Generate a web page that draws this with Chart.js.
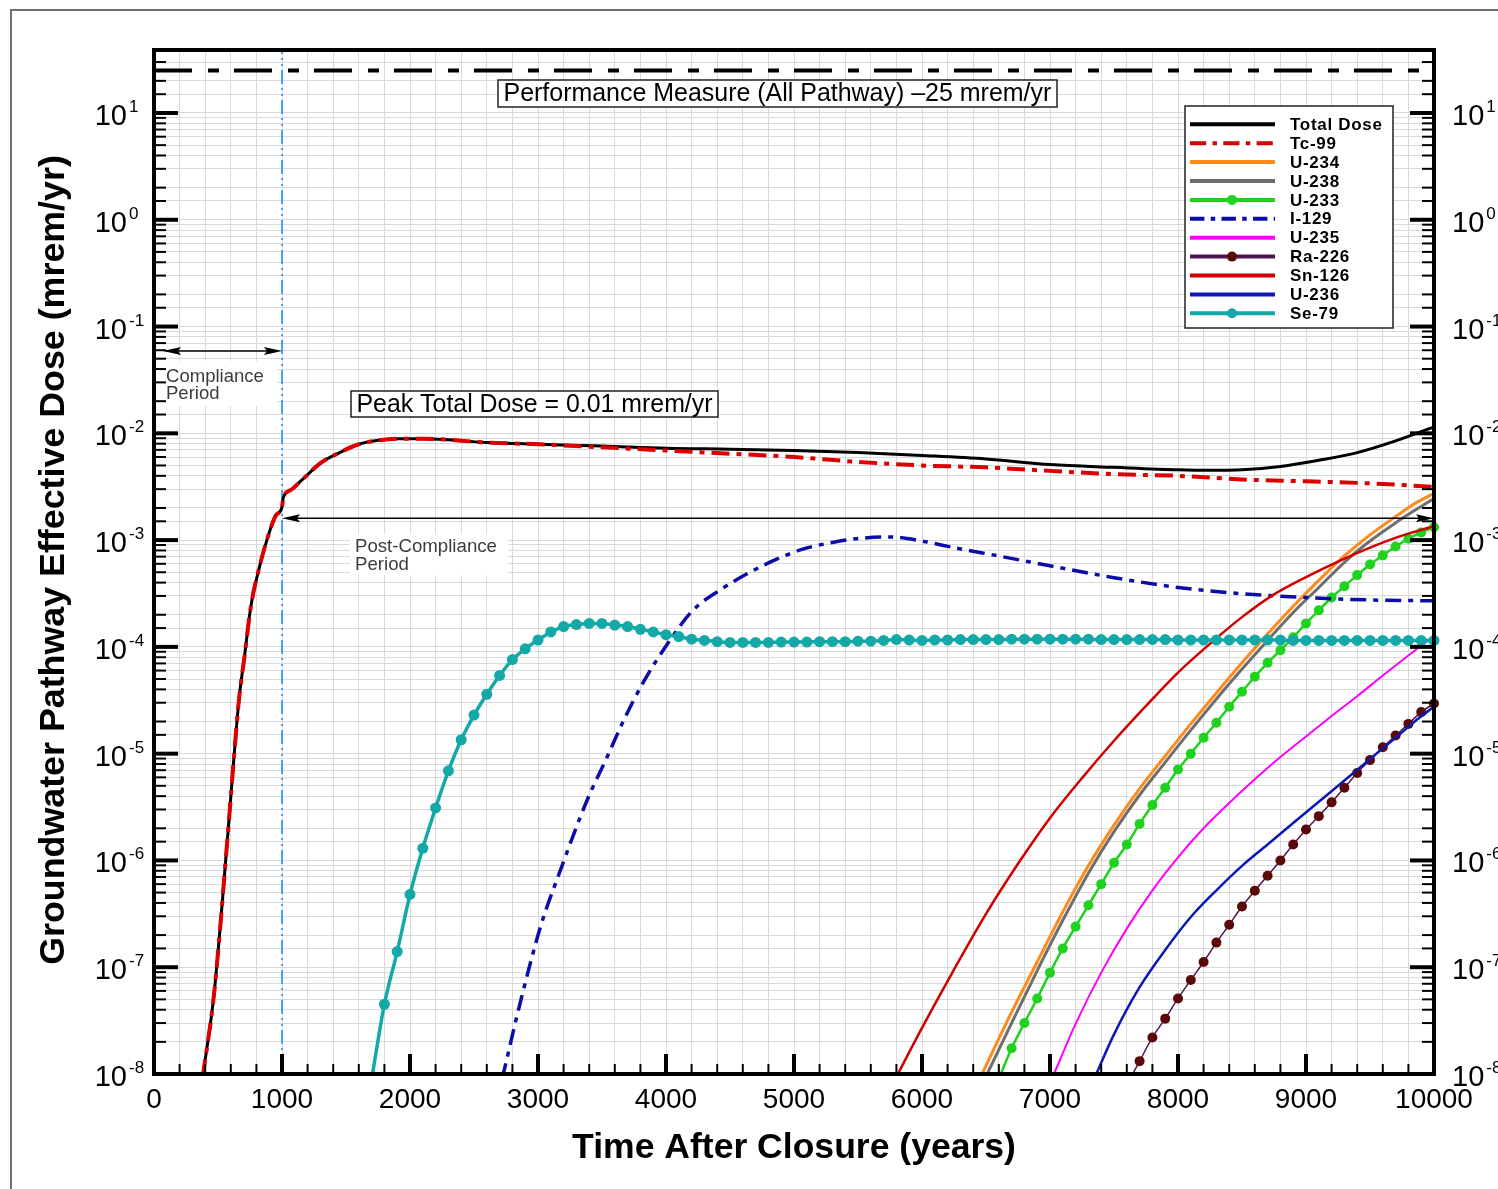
<!DOCTYPE html>
<html><head><meta charset="utf-8">
<script src="https://cdn.jsdelivr.net/npm/chart.js@4.4.1/dist/chart.umd.min.js"></script>
<style>html,body{margin:0;padding:0;background:#fff;overflow:hidden}canvas{display:block}</style>
</head><body>
<canvas id="c" width="1498" height="1189" style="width:1498px;height:1189px"></canvas>
<script>
// ---------------- DATA ----------------
const xTickLabels = [0, 1000, 2000, 3000, 4000, 5000, 6000, 7000, 8000, 9000, 10000];
const performanceMeasure = 25;       // mrem/yr
const complianceYear = 1000;

const totalYears = [380,470,575,627,666,705,757,822,887,952,1000,1010,1070,1150,1300,1450,1600,1750,1900,2100,2300,2600,3000,3500,4000,4500,5000,5500,6000,6500,7000,7500,8000,8250,8500,8800,9100,9400,9700,10000];
const totalDose  = [9.3e-9,5.75e-8,1.66e-6,1.0e-5,3.4e-5,7.8e-5,2.4e-4,5.5e-4,1.05e-3,1.7e-3,2.04e-3,2.5e-3,2.95e-3,3.6e-3,5.25e-3,6.6e-3,7.9e-3,8.6e-3,8.9e-3,8.9e-3,8.7e-3,8.2e-3,7.9e-3,7.6e-3,7.25e-3,7.1e-3,6.9e-3,6.6e-3,6.2e-3,5.75e-3,5.1e-3,4.8e-3,4.55e-3,4.5e-3,4.55e-3,4.9e-3,5.6e-3,6.6e-3,8.5e-3,1.15e-2];

const tc99Years = [380,470,575,627,666,705,757,822,887,952,1000,1010,1070,1150,1300,1450,1600,1750,1900,2100,2300,2600,3000,3500,4000,4500,5000,5500,6000,6500,7000,7500,8000,8500,9000,9500,10000];
const tc99Dose  = [9.3e-9,5.75e-8,1.66e-6,1.0e-5,3.4e-5,7.8e-5,2.4e-4,5.5e-4,1.05e-3,1.7e-3,2.04e-3,2.5e-3,2.95e-3,3.6e-3,5.25e-3,6.6e-3,7.9e-3,8.6e-3,8.9e-3,8.9e-3,8.7e-3,8.2e-3,7.9e-3,7.4e-3,6.9e-3,6.45e-3,6.0e-3,5.4e-3,5.0e-3,4.8e-3,4.45e-3,4.15e-3,4.0e-3,3.7e-3,3.55e-3,3.4e-3,3.15e-3];

const u234Years = [6460,6700,6900,7100,7300,7500,7700,7900,8100,8300,8500,8700,8900,9100,9300,9500,9700,9850,10000];
const u234Dose  = [9.5e-9,3.8e-8,1.12e-7,3.3e-7,8.9e-7,2.14e-6,4.7e-6,9.5e-6,1.9e-5,3.7e-5,7.1e-5,1.32e-4,2.4e-4,4.2e-4,7.1e-4,1.12e-3,1.66e-3,2.2e-3,2.75e-3];

const u238Years = [6500,6700,6900,7100,7300,7500,7700,7900,8100,8300,8500,8700,8900,9100,9300,9500,9700,9850,10000];
const u238Dose  = [9.5e-9,3.0e-8,9.3e-8,2.75e-7,7.6e-7,1.86e-6,4.1e-6,8.3e-6,1.66e-5,3.25e-5,6.2e-5,1.15e-4,2.1e-4,3.6e-4,6.2e-4,9.8e-4,1.45e-3,1.9e-3,2.45e-3];

const u233Years = [6600,6700,6800,6900,7000,7100,7200,7300,7400,7500,7600,7700,7800,7900,8000,8100,8200,8300,8400,8500,8600,8700,8800,8900,9000,9100,9200,9300,9400,9500,9600,9700,9800,9900,10000];
const u233Dose  = [9.0e-9,1.74e-8,3.0e-8,5.1e-8,8.9e-8,1.5e-7,2.4e-7,3.8e-7,6.0e-7,9.5e-7,1.41e-6,2.2e-6,3.3e-6,4.8e-6,7.1e-6,1.0e-5,1.41e-5,1.95e-5,2.75e-5,3.8e-5,5.25e-5,7.1e-5,9.3e-5,1.23e-4,1.66e-4,2.2e-4,2.9e-4,3.7e-4,4.7e-4,5.9e-4,7.2e-4,8.7e-4,1.03e-3,1.18e-3,1.32e-3];

const i129Years = [2720,2860,3020,3175,3385,3540,3665,3820,4030,4210,4420,4735,5050,5300,5520,5750,6000,6250,6600,7000,7500,8000,8500,9000,9500,10000];
const i129Dose  = [9.0e-9,4.6e-8,2.4e-7,8.1e-7,3.7e-6,9.3e-6,2.0e-5,4.6e-5,1.15e-4,2.2e-4,3.4e-4,5.6e-4,8.1e-4,9.5e-4,1.04e-3,1.07e-3,9.8e-4,8.5e-4,7.1e-4,5.75e-4,4.45e-4,3.6e-4,3.15e-4,2.9e-4,2.75e-4,2.7e-4];

const u235Years = [7020,7200,7400,7600,7800,8000,8200,8400,8600,8800,9000,9200,9400,9600,9800,10000];
const u235Dose  = [9.3e-9,2.95e-8,8.9e-8,2.3e-7,5.25e-7,1.07e-6,2.0e-6,3.45e-6,5.75e-6,9.3e-6,1.45e-5,2.25e-5,3.45e-5,5.4e-5,8.3e-5,1.27e-4];

const ra226Years = [7600,7700,7800,7900,8000,8100,8200,8300,8400,8500,8600,8700,8800,8900,9000,9100,9200,9300,9400,9500,9600,9700,9800,9900,10000];
const ra226Dose  = [7.9e-9,1.32e-8,2.2e-8,3.3e-8,5.1e-8,7.6e-8,1.12e-7,1.7e-7,2.5e-7,3.7e-7,5.2e-7,7.2e-7,1.0e-6,1.41e-6,1.95e-6,2.6e-6,3.5e-6,4.8e-6,6.6e-6,8.7e-6,1.15e-5,1.48e-5,1.9e-5,2.45e-5,2.95e-5];

const sn126Years = [5790,6000,6250,6500,6750,7000,7250,7500,7750,8000,8250,8500,8750,9000,9250,9500,9750,10000];
const sn126Dose  = [8.9e-9,2.7e-8,9.5e-8,3.16e-7,9.3e-7,2.5e-6,5.9e-6,1.32e-5,2.8e-5,5.75e-5,1.07e-4,1.9e-4,3.1e-4,4.5e-4,6.3e-4,8.5e-4,1.1e-3,1.35e-3];

const u236Years = [7350,7500,7700,7900,8100,8300,8500,8700,8900,9100,9300,9500,9700,9900,10000];
const u236Dose  = [9.3e-9,2.35e-8,6.5e-8,1.45e-7,2.95e-7,5.25e-7,8.9e-7,1.41e-6,2.24e-6,3.55e-6,5.6e-6,8.9e-6,1.41e-5,2.24e-5,2.75e-5];

const se79Years = [1700,1800,1900,2000,2100,2200,2300,2400,2500,2600,2700,2800,2900,3000,3100,3200,3300,3400,3500,3600,3700,3800,3900,4000,4100,4200,4300,4400,4500,4600,4700,4800,4900,5000,5100,5200,5300,5400,5500,5600,5700,5800,5900,6000,6100,6200,6300,6400,6500,6600,6700,6800,6900,7000,7100,7200,7300,7400,7500,7600,7700,7800,7900,8000,8100,8200,8300,8400,8500,8600,8700,8800,8900,9000,9100,9200,9300,9400,9500,9600,9700,9800,9900,10000];
const se79Dose  = [8.9e-9,4.5e-8,1.4e-7,4.8e-7,1.3e-6,3.1e-6,6.9e-6,1.35e-5,2.3e-5,3.6e-5,5.4e-5,7.6e-5,9.6e-5,1.16e-4,1.38e-4,1.55e-4,1.62e-4,1.66e-4,1.66e-4,1.6e-4,1.55e-4,1.46e-4,1.38e-4,1.3e-4,1.25e-4,1.18e-4,1.15e-4,1.12e-4,1.1e-4,1.1e-4,1.1e-4,1.1e-4,1.11e-4,1.11e-4,1.11e-4,1.12e-4,1.12e-4,1.12e-4,1.13e-4,1.13e-4,1.15e-4,1.17e-4,1.16e-4,1.15e-4,1.16e-4,1.16e-4,1.17e-4,1.17e-4,1.17e-4,1.17e-4,1.18e-4,1.18e-4,1.18e-4,1.18e-4,1.18e-4,1.18e-4,1.18e-4,1.17e-4,1.17e-4,1.17e-4,1.17e-4,1.17e-4,1.17e-4,1.16e-4,1.16e-4,1.16e-4,1.16e-4,1.16e-4,1.16e-4,1.16e-4,1.16e-4,1.16e-4,1.15e-4,1.15e-4,1.15e-4,1.15e-4,1.15e-4,1.15e-4,1.15e-4,1.15e-4,1.15e-4,1.15e-4,1.15e-4,1.15e-4];

// ---------------- CHART ----------------
const FONT = '"Liberation Sans", Arial, Helvetica, sans-serif';
const Y_MIN = 1e-8, Y_MAX = 38.9;

function pts(xs, ys) { return xs.map((x, i) => ({ x: x, y: ys[i] })); }
const clipArea = { left: 0, top: 0, right: 6, bottom: 0 };

function series(label, xs, ys, color, width, dash, marker, markerColor, order) {
  return {
    label: label, data: pts(xs, ys), borderColor: color, backgroundColor: markerColor || color,
    borderWidth: width, borderDash: dash || [], pointRadius: marker || 0,
    pointBackgroundColor: markerColor || color, pointBorderWidth: 0, pointHoverRadius: 0,
    cubicInterpolationMode: 'monotone', fill: false, clip: clipArea, order: order, showInLegend: true
  };
}

const datasets = [
  series('Total Dose', totalYears, totalDose, '#000000', 3, null, 0, null, 20),
  series('Tc-99', tc99Years, tc99Dose, '#dd0000', 4, [18, 7, 5, 7], 0, null, 19),
  series('U-234', u234Years, u234Dose, '#ff8a1a', 3, null, 0, null, 18),
  series('U-238', u238Years, u238Dose, '#6e6e6e', 3, null, 0, null, 17),
  series('U-233', u233Years, u233Dose, '#1ed21e', 2.5, null, 5, '#1ed21e', 16),
  series('I-129', i129Years, i129Dose, '#0c0ca8', 3.5, [16, 7, 5, 7], 0, null, 15),
  series('U-235', u235Years, u235Dose, '#ff00ff', 2, null, 0, null, 14),
  series('Ra-226', ra226Years, ra226Dose, '#4e1450', 1.5, null, 5, '#5a0808', 13),
  series('Sn-126', sn126Years, sn126Dose, '#d00000', 2.5, null, 0, null, 12),
  series('U-236', u236Years, u236Dose, '#0a18b4', 2.5, null, 0, null, 11),
  series('Se-79', se79Years, se79Dose, '#14a8a8', 3.5, null, 5.5, '#14a8a8', 10)
];
// reference lines (drawn through the scales)
datasets.push({
  label: 'Performance', data: [{ x: 0, y: performanceMeasure }, { x: 10000, y: performanceMeasure }],
  borderColor: '#000', borderWidth: 4, borderDash: [38, 16, 11, 15], pointRadius: 0, order: 30, showInLegend: false, clip: 0
});
datasets.push({
  label: 'Compliance', data: [{ x: complianceYear, y: Y_MIN }, { x: complianceYear, y: Y_MAX }],
  borderColor: '#1e8fff', borderWidth: 1.6, borderDash: [14, 4, 2, 4, 2, 4], pointRadius: 0, order: 29, showInLegend: false, clip: 0
});

function fitFont(ctx, text, weight, target) {
  ctx.font = weight + ' 100px ' + FONT;
  const w = ctx.measureText(text).width;
  return 100 * target / w;
}
function arrowHead(c, x, y, dir) {
  c.beginPath();
  c.moveTo(x, y);
  c.lineTo(x + dir * 18, y - 4);
  c.lineTo(x + dir * 15, y);
  c.lineTo(x + dir * 18, y + 4);
  c.closePath();
  c.fill();
}
function seg(c, x1, y1, x2, y2) { c.beginPath(); c.moveTo(x1, y1); c.lineTo(x2, y2); c.stroke(); }

const decor = {
  id: 'decor',
  beforeDraw(chart) {
    const c = chart.ctx;
    c.save();
    c.fillStyle = '#fff'; c.fillRect(0, 0, chart.width, chart.height);
    c.strokeStyle = '#707070'; c.lineWidth = 2;
    c.strokeRect(11, 10, chart.width + 40, chart.height + 40);
    c.restore();
  },
  afterDatasetsDraw(chart) {
    const c = chart.ctx, a = chart.chartArea, xs = chart.scales.x, ys = chart.scales.y;
    c.save();

    // ---- annotation: compliance period ----
    const yComp = ys.getPixelForValue(0.059);
    c.fillStyle = '#fff';
    c.fillRect(a.left + 9, yComp + 10, 114, 45);
    c.strokeStyle = '#000'; c.fillStyle = '#000'; c.lineWidth = 1.6;
    const xC = xs.getPixelForValue(complianceYear);
    seg(c, a.left + 12, yComp, xC - 12, yComp);
    arrowHead(c, a.left + 9, yComp, 1);
    arrowHead(c, xC, yComp, -1);
    c.fillStyle = '#3c3c3c';
    c.textBaseline = 'alphabetic'; c.textAlign = 'left';
    c.font = fitFont(c, 'Compliance', 'normal', 98).toFixed(2) + 'px ' + FONT;
    c.fillText('Compliance', a.left + 12, yComp + 31);
    c.fillText('Period', a.left + 12, yComp + 48);

    // ---- annotation: post-compliance period ----
    const yPost = ys.getPixelForValue(1.6e-3);
    c.fillStyle = '#fff';
    c.fillRect(350, yPost + 15, 158, 42);
    c.fillStyle = '#000'; c.strokeStyle = '#000'; c.lineWidth = 1.6;
    seg(c, xC + 12, yPost, a.right - 12, yPost);
    arrowHead(c, xC, yPost, 1);
    arrowHead(c, a.right, yPost, -1);
    c.fillStyle = '#3c3c3c';
    c.font = fitFont(c, 'Post-Compliance', 'normal', 142).toFixed(2) + 'px ' + FONT;
    c.fillText('Post-Compliance', 355, yPost + 34);
    c.fillText('Period', 355, yPost + 52);

    // ---- boxed labels ----
    function boxLabel(text, left, top, right, bottom, baseline) {
      c.fillStyle = '#fff';
      c.fillRect(left, top, right - left, bottom - top);
      c.strokeStyle = '#222'; c.lineWidth = 1.5;
      c.strokeRect(left, top, right - left, bottom - top);
      const fs = fitFont(c, text, 'normal', right - left - 11);
      c.font = fs.toFixed(2) + 'px ' + FONT;
      c.fillStyle = '#000'; c.textAlign = 'left';
      c.fillText(text, left + 5.5, baseline);
    }
    boxLabel('Performance Measure (All Pathway) \u201325 mrem/yr', 498, 80, 1057, 107, 101);
    boxLabel('Peak Total Dose = 0.01 mrem/yr', 351, 391, 718, 417, 412);

    // ---- plot frame ----
    c.strokeStyle = '#000'; c.lineWidth = 4;
    c.strokeRect(a.left, a.top, a.right - a.left, a.bottom - a.top);

    // ---- y ticks + labels ----
    c.fillStyle = '#000';
    ys.ticks.forEach(t => {
      const v = t.value;
      const py = ys.getPixelForValue(v);
      if (py < a.top + 1 || py > a.bottom + 1) return;
      const lg = Math.log10(v);
      const major = Math.abs(lg - Math.round(lg)) < 1e-6;
      c.lineWidth = major ? 4 : 2;
      const len = major ? 24 : 12;
      seg(c, a.left, py, a.left + len, py);
      seg(c, a.right, py, a.right - len, py);
      if (major) {
        const e = String(Math.round(lg));
        c.textAlign = 'right'; c.textBaseline = 'alphabetic';
        c.font = '29px ' + FONT;
        c.fillText('10', 127, py + 12);
        c.textAlign = 'left';
        c.font = '17px ' + FONT;
        c.fillText(e, 129, py - 1);
        c.font = '29px ' + FONT;
        c.fillText('10', 1452, py + 12);
        const w = c.measureText('10').width;
        c.font = '17px ' + FONT;
        c.fillText(e, 1452 + w + 2, py - 1);
      }
    });

    // ---- x ticks + labels ----
    xs.ticks.forEach(t => {
      const v = t.value;
      const px = xs.getPixelForValue(v);
      const major = xTickLabels.indexOf(v) >= 0;
      c.lineWidth = major ? 4 : 2;
      const len = major ? 20 : 10;
      seg(c, px, a.bottom, px, a.bottom - len);
    });
    c.textAlign = 'center'; c.textBaseline = 'alphabetic';
    c.font = '28px ' + FONT;
    xTickLabels.forEach(v => {
      c.fillText(String(v), xs.getPixelForValue(v), a.bottom + 34);
    });

    // ---- axis titles ----
    const xt = 'Time After Closure (years)';
    c.font = 'bold ' + fitFont(c, xt, 'bold', 444).toFixed(2) + 'px ' + FONT;
    c.textAlign = 'center';
    c.fillText(xt, 794, 1158);
    const yt = 'Groundwater Pathway Effective Dose (mrem/yr)';
    c.font = 'bold ' + fitFont(c, yt, 'bold', 810).toFixed(2) + 'px ' + FONT;
    c.save();
    c.translate(64, 560);
    c.rotate(-Math.PI / 2);
    c.textAlign = 'center';
    c.fillText(yt, 0, 0);
    c.restore();

    // ---- legend ----
    const lx = 1185, ly = 106, lw = 208, lh = 222;
    c.fillStyle = '#fff'; c.fillRect(lx, ly, lw, lh);
    c.strokeStyle = '#222'; c.lineWidth = 1.5; c.strokeRect(lx, ly, lw, lh);
    const items = chart.data.datasets.filter(d => d.showInLegend);
    items.forEach((d, i) => {
      const y = 124.3 + i * 18.9;
      c.strokeStyle = d.borderColor; c.lineWidth = 4;
      c.setLineDash(d.borderDash && d.borderDash.length ? d.borderDash.map(v => v * 0.9) : []);
      seg(c, 1190, y, 1275, y);
      c.setLineDash([]);
      if (d.pointRadius) {
        c.fillStyle = d.pointBackgroundColor;
        c.beginPath(); c.arc(1232, y, 5, 0, Math.PI * 2); c.fill();
      }
      c.fillStyle = '#000';
      c.font = 'bold 17px ' + FONT;
      try { c.letterSpacing = '0.7px'; } catch (err) {}
      c.textAlign = 'left'; c.textBaseline = 'middle';
      c.fillText(d.label, 1290, y + 1);
      try { c.letterSpacing = '0px'; } catch (err) {}
    });
    c.restore();
  }
};

new Chart(document.getElementById('c'), {
  type: 'line',
  data: { datasets: datasets },
  options: {
    responsive: false, animation: false, devicePixelRatio: 1,
    events: [],
    layout: { padding: { left: 154, right: 64, top: 50, bottom: 115 } },
    plugins: { legend: { display: false }, tooltip: { enabled: false } },
    elements: { line: { borderCapStyle: 'butt', borderJoinStyle: 'round' } },
    scales: {
      x: {
        type: 'linear', min: 0, max: 10000,
        ticks: { display: false, stepSize: 200 },
        grid: { color: '#d9d9d9', lineWidth: 1, drawTicks: false },
        border: { display: false },
        afterFit: s => { s.height = 0; }
      },
      y: {
        type: 'logarithmic', min: Y_MIN, max: Y_MAX,
        ticks: { display: false },
        grid: { color: '#d9d9d9', lineWidth: 1, drawTicks: false },
        border: { display: false },
        afterFit: s => { s.width = 0; }
      }
    }
  },
  plugins: [decor]
});
</script></body></html>
